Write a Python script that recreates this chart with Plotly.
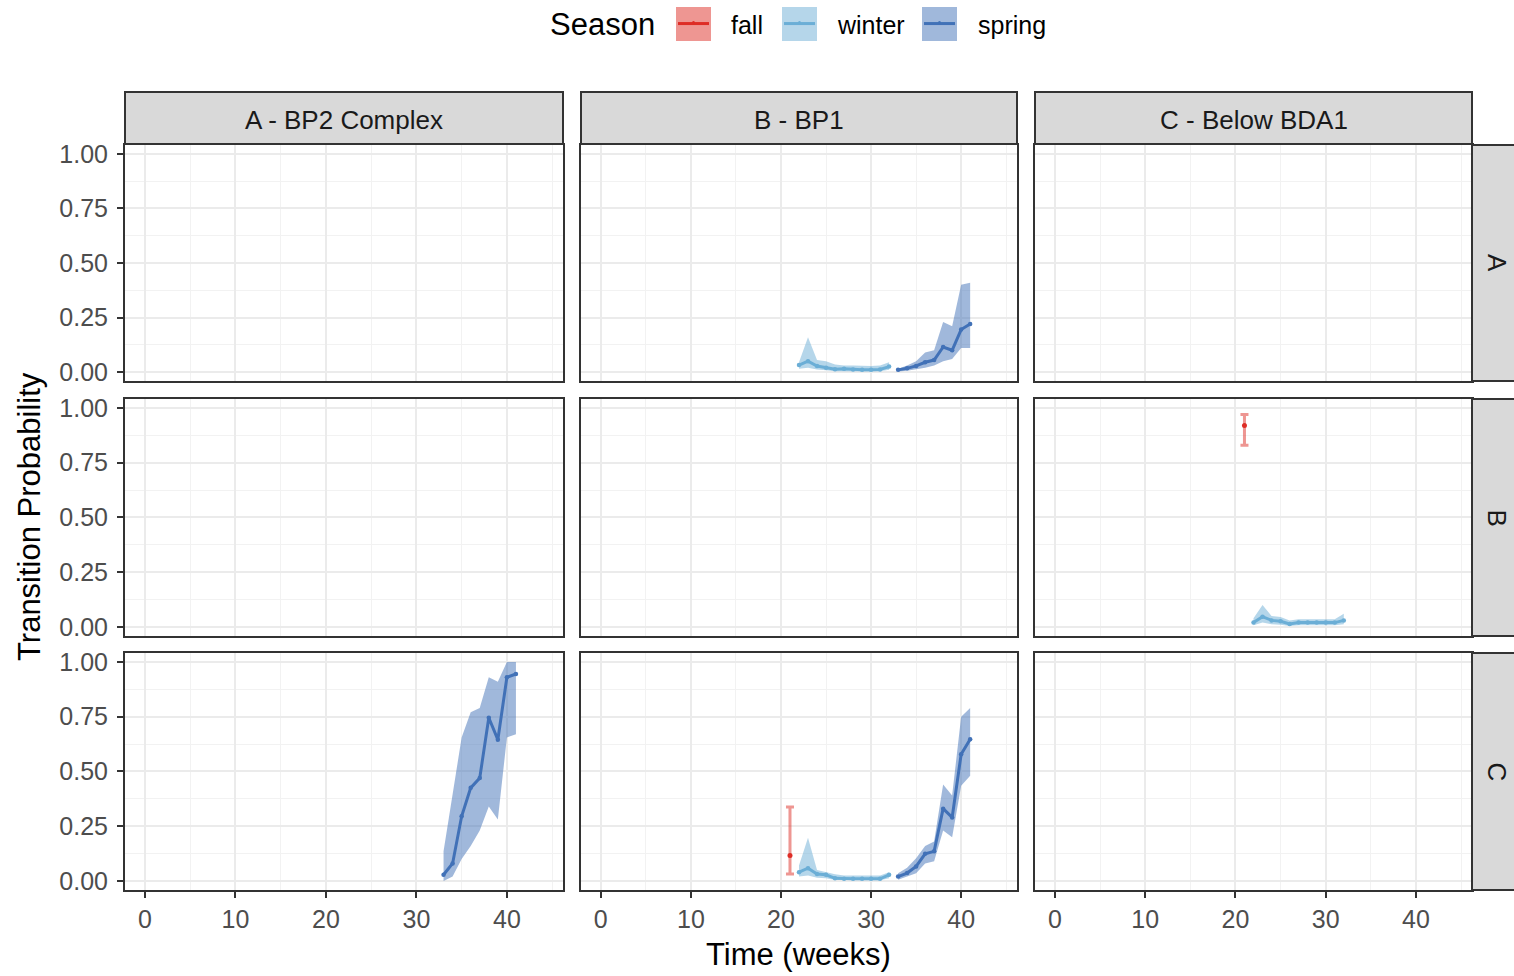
import plotly.graph_objects as go

W, H = 1514, 976

# ---------------- data ----------------
col_labels = ["A - BP2 Complex", "B - BP1", "C - Below BDA1"]
row_labels = ["A", "B", "C"]
season_names = ["fall", "winter", "spring"]
x_ticks = [0, 10, 20, 30, 40]
y_ticks = [0, 0.25, 0.5, 0.75, 1.0]
y_tick_text = ["0.00", "0.25", "0.50", "0.75", "1.00"]

fall_weeks = [21]
winter_weeks = list(range(22, 33))
spring_weeks = list(range(33, 42))

# row A / col B
win_AB = [0.032, 0.05, 0.028, 0.02, 0.013, 0.015, 0.012, 0.01, 0.01, 0.012, 0.025]
win_AB_hi = [0.045, 0.16, 0.055, 0.05, 0.035, 0.03, 0.03, 0.028, 0.028, 0.03, 0.045]
win_AB_lo = [0.015, 0.02, 0.012, 0.008, 0.004, 0.004, 0.003, 0.003, 0.003, 0.004, 0.01]
spr_AB = [0.01, 0.017, 0.028, 0.045, 0.055, 0.115, 0.10, 0.195, 0.22]
spr_AB_hi = [0.015, 0.03, 0.05, 0.09, 0.10, 0.23, 0.21, 0.40, 0.41]
spr_AB_lo = [0.003, 0.006, 0.012, 0.02, 0.03, 0.05, 0.06, 0.11, 0.11]

# row B / col C
fall_BC = [0.92]
fall_BC_hi = [0.97]
fall_BC_lo = [0.83]
win_BC = [0.02, 0.047, 0.03, 0.026, 0.014, 0.02, 0.02, 0.02, 0.02, 0.02, 0.03]
win_BC_hi = [0.04, 0.1, 0.05, 0.045, 0.03, 0.035, 0.035, 0.035, 0.035, 0.035, 0.06]
win_BC_lo = [0.008, 0.02, 0.012, 0.01, 0.004, 0.008, 0.008, 0.008, 0.008, 0.008, 0.012]

# row C / col A
spr_CA = [0.028, 0.08, 0.295, 0.425, 0.47, 0.745, 0.645, 0.93, 0.945]
spr_CA_hi = [0.135, 0.40, 0.655, 0.77, 0.79, 0.93, 0.91, 1.0, 1.0]
spr_CA_lo = [0.0, 0.02, 0.10, 0.16, 0.23, 0.34, 0.28, 0.655, 0.67]

# row C / col B
fall_CB = [0.116]
fall_CB_hi = [0.338]
fall_CB_lo = [0.032]
win_CB = [0.04, 0.058, 0.032, 0.028, 0.012, 0.01, 0.01, 0.01, 0.01, 0.01, 0.028]
win_CB_hi = [0.07, 0.197, 0.05, 0.04, 0.03, 0.025, 0.025, 0.025, 0.025, 0.025, 0.04]
win_CB_lo = [0.02, 0.025, 0.015, 0.012, 0.004, 0.003, 0.003, 0.003, 0.003, 0.003, 0.012]
spr_CB = [0.02, 0.036, 0.066, 0.124, 0.135, 0.33, 0.29, 0.578, 0.647]
spr_CB_hi = [0.035, 0.06, 0.104, 0.16, 0.18, 0.44, 0.39, 0.75, 0.79]
spr_CB_lo = [0.005, 0.02, 0.035, 0.08, 0.09, 0.23, 0.20, 0.435, 0.48]

# ---------------- styling ----------------
FONT = "Liberation Sans, Arial, sans-serif"
C_FALL = "#DE2D26"
C_WIN = "#6BAED6"
C_SPR = "#4171B7"
F_FALL = "rgba(222,45,38,0.5)"
F_WIN = "rgba(107,174,214,0.5)"
F_SPR = "rgba(65,113,183,0.5)"
TICK_SIZE = 25
STRIP_SIZE = 26
TITLE_SIZE = 31

col_px = [(125, 563), (581, 1017), (1035, 1472)]
row_px = [(145, 381), (399, 636), (653, 890)]

def px_x(p):
    return p / W

def px_y(p):
    q = p * 1.0102 - 5
    return 1 - q / H

fig = go.Figure()

def axis_ids(r, c):
    i = r * 3 + c + 1
    return ("x" if i == 1 else f"x{i}"), ("y" if i == 1 else f"y{i}")

# invisible anchor trace in each panel so every subplot is drawn
for r in range(3):
    for c in range(3):
        xa, ya = axis_ids(r, c)
        fig.add_trace(go.Scatter(x=[0], y=[0], mode="markers",
                                 marker=dict(opacity=0, size=1),
                                 hoverinfo="skip", showlegend=False,
                                 xaxis=xa, yaxis=ya))

def add_ribbon(r, c, xs, lo, hi, fill):
    xa, ya = axis_ids(r, c)
    fig.add_trace(go.Scatter(
        x=list(xs) + list(xs)[::-1], y=list(hi) + list(lo)[::-1],
        fill="toself", fillcolor=fill, line=dict(width=0),
        mode="lines", hoverinfo="skip", showlegend=False, xaxis=xa, yaxis=ya))

def add_line(r, c, xs, ys, color):
    xa, ya = axis_ids(r, c)
    fig.add_trace(go.Scatter(
        x=xs, y=ys, mode="lines+markers",
        line=dict(color=color, width=3), marker=dict(color=color, size=4.5),
        showlegend=False, xaxis=xa, yaxis=ya))

def add_fall(r, c, xs, ys, lo, hi):
    xa, ya = axis_ids(r, c)
    fig.add_trace(go.Scatter(
        x=xs, y=ys, mode="markers",
        marker=dict(color=C_FALL, size=5),
        error_y=dict(type="data", symmetric=False,
                     array=[h - v for h, v in zip(hi, ys)],
                     arrayminus=[v - l for l, v in zip(lo, ys)],
                     color=F_FALL, thickness=3, width=4),
        showlegend=False, xaxis=xa, yaxis=ya))

# row A col B
add_ribbon(0, 1, winter_weeks, win_AB_lo, win_AB_hi, F_WIN)
add_ribbon(0, 1, spring_weeks, spr_AB_lo, spr_AB_hi, F_SPR)
add_line(0, 1, winter_weeks, win_AB, C_WIN)
add_line(0, 1, spring_weeks, spr_AB, C_SPR)
# row B col C
add_ribbon(1, 2, winter_weeks, win_BC_lo, win_BC_hi, F_WIN)
add_line(1, 2, winter_weeks, win_BC, C_WIN)
add_fall(1, 2, fall_weeks, fall_BC, fall_BC_lo, fall_BC_hi)
# row C col A
add_ribbon(2, 0, spring_weeks, spr_CA_lo, spr_CA_hi, F_SPR)
add_line(2, 0, spring_weeks, spr_CA, C_SPR)
# row C col B
add_ribbon(2, 1, winter_weeks, win_CB_lo, win_CB_hi, F_WIN)
add_ribbon(2, 1, spring_weeks, spr_CB_lo, spr_CB_hi, F_SPR)
add_line(2, 1, winter_weeks, win_CB, C_WIN)
add_line(2, 1, spring_weeks, spr_CB, C_SPR)
add_fall(2, 1, fall_weeks, fall_CB, fall_CB_lo, fall_CB_hi)

layout = dict(
    width=W, height=H, autosize=False,
    margin=dict(l=0, r=0, t=0, b=0, pad=0),
    paper_bgcolor="white", plot_bgcolor="white",
    font=dict(family=FONT, size=TICK_SIZE, color="#4D4D4D"),
    showlegend=False,
)

for r in range(3):
    for c in range(3):
        i = r * 3 + c + 1
        xkey = "xaxis" if i == 1 else f"xaxis{i}"
        ykey = "yaxis" if i == 1 else f"yaxis{i}"
        xa, ya = axis_ids(r, c)
        layout[xkey] = dict(
            domain=[px_x(col_px[c][0]), px_x(col_px[c][1])],
            anchor=ya, range=[-2.2, 46.2],
            tickvals=x_ticks, ticktext=[str(v) for v in x_ticks],
            showticklabels=(r == 2), ticks="outside" if r == 2 else "",
            ticklen=6, tickwidth=1.5, tickcolor="#333333",
            tickfont=dict(size=TICK_SIZE, color="#4D4D4D", family=FONT),
            showgrid=True, gridcolor="#EBEBEB", gridwidth=2,
            minor=dict(tickvals=[5, 15, 25, 35, 45], showgrid=True,
                       gridcolor="#F2F2F2", gridwidth=1, ticks=""),
            showline=True, mirror=True, linecolor="#333333", linewidth=2,
            zeroline=False, fixedrange=True,
        )
        layout[ykey] = dict(
            domain=[px_y(row_px[r][1]), px_y(row_px[r][0])],
            anchor=xa, range=[-0.041, 1.041],
            tickvals=y_ticks, ticktext=y_tick_text,
            showticklabels=(c == 0), ticks="outside" if c == 0 else "",
            ticklen=6, tickwidth=1.5, tickcolor="#333333",
            ticklabelstandoff=4,
            tickfont=dict(size=TICK_SIZE, color="#4D4D4D", family=FONT),
            showgrid=True, gridcolor="#EBEBEB", gridwidth=2,
            minor=dict(tickvals=[0.125, 0.375, 0.625, 0.875], showgrid=True,
                       gridcolor="#F2F2F2", gridwidth=1, ticks=""),
            showline=True, mirror=True, linecolor="#333333", linewidth=2,
            zeroline=False, fixedrange=True,
        )

shapes = []
annotations = []

# top strips
for c, lab in enumerate(col_labels):
    x0, x1 = col_px[c]
    shapes.append(dict(type="rect", xref="paper", yref="paper",
                       x0=px_x(x0), x1=px_x(x1), y0=px_y(144), y1=px_y(92),
                       fillcolor="#D9D9D9", line=dict(color="#333333", width=2), layer="above"))
    annotations.append(dict(xref="paper", yref="paper", x=px_x((x0 + x1) / 2), y=px_y(120),
                            text=lab, showarrow=False, xanchor="center", yanchor="middle",
                            font=dict(family=FONT, size=STRIP_SIZE, color="#1A1A1A")))
# right strips
for r, lab in enumerate(row_labels):
    y0, y1 = row_px[r]
    shapes.append(dict(type="rect", xref="paper", yref="paper",
                       x0=px_x(1472), x1=px_x(1526), y0=px_y(y1), y1=px_y(y0),
                       fillcolor="#D9D9D9", line=dict(color="#333333", width=2), layer="above"))
    annotations.append(dict(xref="paper", yref="paper", x=px_x(1497), y=px_y((y0 + y1) / 2),
                            text=lab, showarrow=False, textangle=90,
                            xanchor="center", yanchor="middle",
                            font=dict(family=FONT, size=STRIP_SIZE, color="#1A1A1A")))

# axis titles
annotations.append(dict(xref="paper", yref="paper", x=px_x(798), y=px_y(955),
                        text="Time (weeks)", showarrow=False, xanchor="center", yanchor="middle",
                        font=dict(family=FONT, size=TITLE_SIZE, color="black")))
annotations.append(dict(xref="paper", yref="paper", x=px_x(30), y=px_y(517),
                        text="Transition Probability", showarrow=False, textangle=-90,
                        xanchor="center", yanchor="middle",
                        font=dict(family=FONT, size=TITLE_SIZE, color="black")))

# legend (manual)
annotations.append(dict(xref="paper", yref="paper", x=px_x(548), y=px_y(24),
                        text="Season", showarrow=False, xanchor="left", yanchor="middle",
                        font=dict(family=FONT, size=TITLE_SIZE, color="black")))
legend_pos = [(676, 729), (782, 835), (922, 976)]
legend_fill = [F_FALL, F_WIN, F_SPR]
legend_line = [C_FALL, C_WIN, C_SPR]
for name, (sx, tx), fc, lc in zip(season_names, legend_pos, legend_fill, legend_line):
    shapes.append(dict(type="rect", xref="paper", yref="paper",
                       x0=px_x(sx), x1=px_x(sx + 35), y0=px_y(41), y1=px_y(7),
                       fillcolor=fc, line=dict(width=0), layer="above"))
    shapes.append(dict(type="line", xref="paper", yref="paper",
                       x0=px_x(sx + 2), x1=px_x(sx + 33), y0=px_y(23.5), y1=px_y(23.5),
                       line=dict(color=lc, width=3), layer="above"))
    shapes.append(dict(type="circle", xref="paper", yref="paper",
                       x0=px_x(sx + 16), x1=px_x(sx + 19), y0=px_y(24), y1=px_y(21),
                       fillcolor=lc, line=dict(width=0), layer="above"))
    annotations.append(dict(xref="paper", yref="paper", x=px_x(tx), y=px_y(25),
                            text=name, showarrow=False, xanchor="left", yanchor="middle",
                            font=dict(family=FONT, size=TICK_SIZE, color="black")))

layout["shapes"] = shapes
layout["annotations"] = annotations
fig.update_layout(**layout)

fig.write_html("out.html")
